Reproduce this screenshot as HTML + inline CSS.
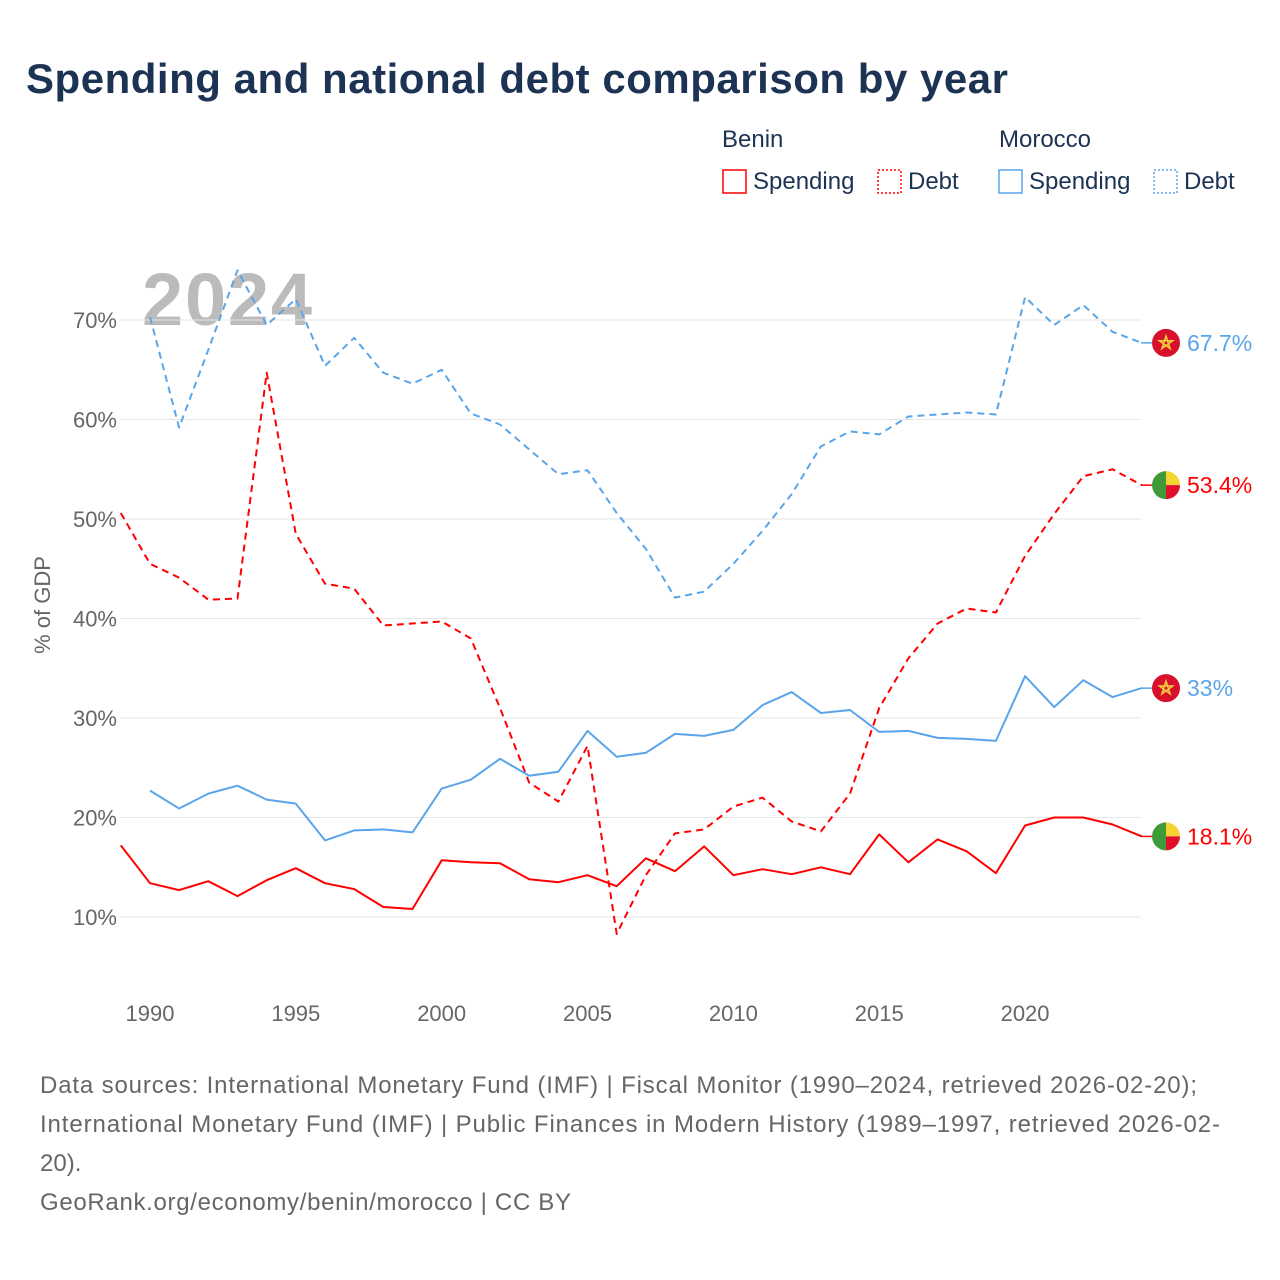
<!DOCTYPE html>
<html><head><meta charset="utf-8">
<style>
body{margin:0;background:#fff;font-family:"Liberation Sans",sans-serif;}
#wrap{position:relative;width:1280px;height:1280px;overflow:hidden;}
</style></head>
<body><div id="wrap">
<svg id="svg" width="1280" height="1280" xmlns="http://www.w3.org/2000/svg">
<text x="26" y="93" font-size="42" font-weight="bold" fill="#1d3354" textLength="982">Spending and national debt comparison by year</text>
<g font-size="24" fill="#1d3354">
<text x="722" y="147">Benin</text>
<text x="999" y="147">Morocco</text>
<g><rect x="723" y="170" width="23" height="23" fill="none" stroke="#f00" stroke-width="1.5"/><text x="753" y="189">Spending</text></g>
<g><rect x="878" y="170" width="23" height="23" fill="none" stroke="#f00" stroke-width="1.5" stroke-dasharray="2,2"/><text x="908" y="189">Debt</text></g>
<g><rect x="999" y="170" width="23" height="23" fill="none" stroke="#5aa5ea" stroke-width="1.5"/><text x="1029" y="189">Spending</text></g>
<g><rect x="1154" y="170" width="23" height="23" fill="none" stroke="#5aa5ea" stroke-width="1.5" stroke-dasharray="2,2"/><text x="1184" y="189">Debt</text></g>
</g>
<text x="142" y="325" font-size="74" font-weight="bold" fill="#bbb" textLength="170">2024</text>
<g id="grid"></g><g id="lines"></g><g id="ends"></g>
<text transform="translate(50,605) rotate(-90)" text-anchor="middle" font-size="22" fill="#666">% of GDP</text>
<g font-size="24" fill="#666">
<text x="40" y="1093" textLength="1157">Data sources: International Monetary Fund (IMF) | Fiscal Monitor (1990–2024, retrieved 2026-02-20);</text>
<text x="40" y="1132" textLength="1180">International Monetary Fund (IMF) | Public Finances in Modern History (1989–1997, retrieved 2026-02-</text>
<text x="40" y="1171">20).</text>
<text x="40" y="1210" textLength="531">GeoRank.org/economy/benin/morocco | CC BY</text>
</g>
</svg>
<script>
const years=[1989,1990,1991,1992,1993,1994,1995,1996,1997,1998,1999,2000,2001,2002,2003,2004,2005,2006,2007,2008,2009,2010,2011,2012,2013,2014,2015,2016,2017,2018,2019,2020,2021,2022,2023,2024];
const beninSpending=[17.2,13.4,12.7,13.6,12.1,13.7,14.9,13.4,12.8,11.0,10.8,15.7,15.5,15.4,13.8,13.5,14.2,13.1,15.9,14.6,17.1,14.2,14.8,14.3,15.0,14.3,18.3,15.5,17.8,16.6,14.4,19.2,20.0,20.0,19.3,18.1];
const beninDebt=[50.6,45.5,44.1,41.9,42.0,64.7,48.5,43.5,43.0,39.3,39.5,39.7,38.0,31.0,23.5,21.6,27.2,8.3,14.2,18.4,18.8,21.1,22.0,19.6,18.6,22.4,31.0,36.0,39.5,41.0,40.6,46.3,50.5,54.3,55.0,53.4];
const moroccoSpending=[null,22.7,20.9,22.4,23.2,21.8,21.4,17.7,18.7,18.8,18.5,22.9,23.8,25.9,24.2,24.6,28.7,26.1,26.5,28.4,28.2,28.8,31.3,32.6,30.5,30.8,28.6,28.7,28.0,27.9,27.7,34.2,31.1,33.8,32.1,33.0];
const moroccoDebt=[null,70.3,59.2,67.0,75.0,69.5,72.1,65.4,68.2,64.7,63.6,65.0,60.6,59.5,57.0,54.5,54.9,50.6,47.0,42.1,42.7,45.5,48.8,52.5,57.3,58.8,58.5,60.3,60.5,60.7,60.5,72.3,69.5,71.5,68.8,67.7];
const yTicks=[10,20,30,40,50,60,70];
const xTicks=[1990,1995,2000,2005,2010,2015,2020];
const NS="http://www.w3.org/2000/svg";
const xs=y=>120.8+(y-1989)*29.17;
const ys=v=>917-(v-10)*9.95;
function mk(tag,attrs,parent){const e=document.createElementNS(NS,tag);for(const k in attrs)e.setAttribute(k,attrs[k]);parent.appendChild(e);return e;}
const grid=document.getElementById('grid');
yTicks.forEach(t=>{
 const l=mk('line',{x1:120,x2:1141,y1:ys(t),y2:ys(t),stroke:'#e6e6e6','stroke-width':1},grid);
 
 
 const tx=mk('text',{x:117,y:ys(t)+8,'text-anchor':'end','font-size':22,fill:'#666'},grid);
 tx.textContent=t+'%';
 
 
});
xTicks.forEach(t=>{
 const tx=mk('text',{x:xs(t),y:1021,'text-anchor':'middle','font-size':22,fill:'#666'},grid);
 tx.textContent=t;
 
 
});
const lines=document.getElementById('lines');
function draw(data,color,dash,name){
 let d='';let first=true;
 data.forEach((v,i)=>{if(v==null)return;d+=(first?'M':'L')+xs(years[i]).toFixed(1)+','+ys(v).toFixed(1);first=false;});
 const p=mk('path',{d:d,fill:'none',stroke:color,'stroke-width':2,'stroke-dasharray':dash?'7,5':'none','stroke-linejoin':'round'},lines);
 
 
}
draw(moroccoDebt,'#5aa5ea',true,'line-morocco-debt');
draw(beninDebt,'#f00',true,'line-benin-debt');
draw(moroccoSpending,'#5aa5ea',false,'line-morocco-spending');
draw(beninSpending,'#f00',false,'line-benin-spending');
const ends=document.getElementById('ends');
function endLabel(data,color,flag,name){
 const v=data[data.length-1];const y=ys(v);const cx=1166;
 const g=mk('g',{},ends);
 
 
 mk('line',{x1:1141,x2:1152,y1:y,y2:y,stroke:color,'stroke-width':1.5},g);
 if(flag==='ma'){
  mk('circle',{cx:cx,cy:y,r:14,fill:'#d8102b'},g);
  const pts=[];for(let k=0;k<5;k++){const a=-Math.PI/2+k*4*Math.PI/5;pts.push((cx+7*Math.cos(a)).toFixed(1)+','+(y+7*Math.sin(a)).toFixed(1));}
  mk('polygon',{points:pts.join(' '),fill:'none',stroke:'#f4d03f','stroke-width':1.5},g);
 } else {
  mk('path',{d:`M${cx},${y-14} A14,14 0 0,0 ${cx},${y+14} Z`,fill:'#3f9b3a'},g);
  mk('path',{d:`M${cx},${y} L${cx},${y-14} A14,14 0 0,1 ${cx+14},${y} Z`,fill:'#f5d431'},g);
  mk('path',{d:`M${cx},${y} L${cx+14},${y} A14,14 0 0,1 ${cx},${y+14} Z`,fill:'#e0102b'},g);
 }
 const t=mk('text',{x:1187,y:y+8,'font-size':23,fill:color},g);
 t.textContent=v+'%';
}
endLabel(moroccoDebt,'#5aa5ea','ma','end-label-morocco-debt');
endLabel(beninDebt,'#f00','bj','end-label-benin-debt');
endLabel(moroccoSpending,'#5aa5ea','ma','end-label-morocco-spending');
endLabel(beninSpending,'#f00','bj','end-label-benin-spending');
</script>
</div></body></html>
